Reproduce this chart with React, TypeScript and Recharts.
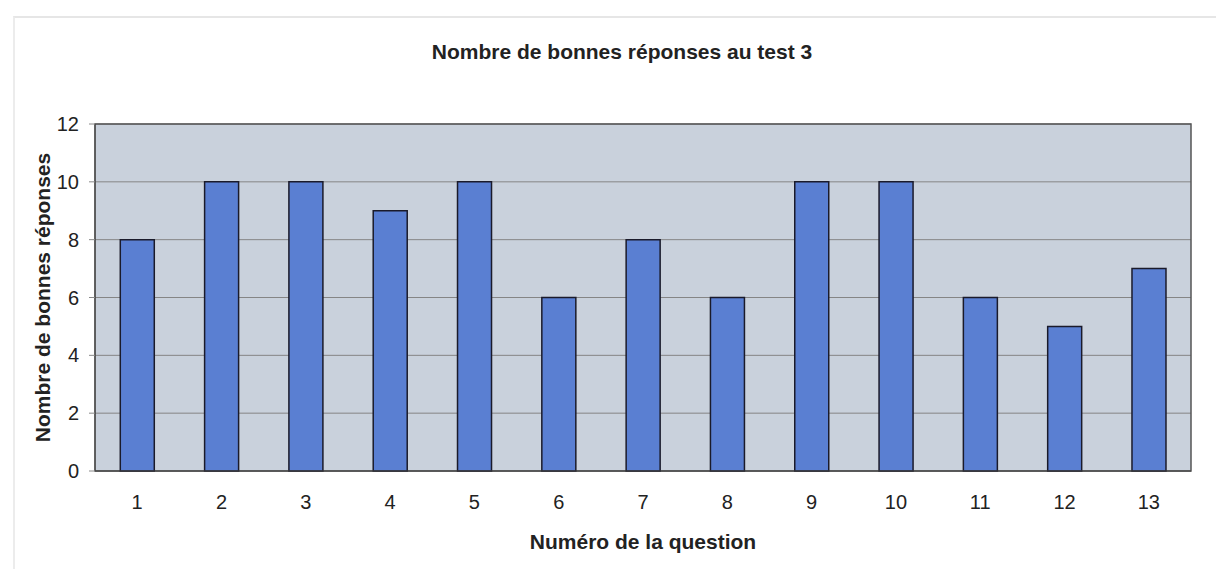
import { Bar, BarChart, CartesianGrid, Label, ReferenceArea, XAxis, YAxis } from "recharts";

const questions = ["1", "2", "3", "4", "5", "6", "7", "8", "9", "10", "11", "12", "13"];
const goodAnswers = [8, 10, 10, 9, 10, 6, 8, 6, 10, 10, 6, 5, 7];
const yTicks = [0, 2, 4, 6, 8, 10, 12];

const data = questions.map((q, i) => ({ question: q, value: goodAnswers[i] }));

const font = "'Liberation Sans', Arial, sans-serif";

const App = () => {
  return (
    <div style={{ position: "absolute", left: 0, top: 0, width: 1216, height: 569, background: "#fff", fontFamily: font }}>
      {/* faint outer frame of the chart object */}
      <div
        style={{
          position: "absolute",
          left: 13,
          top: 16,
          width: 1203,
          height: 553,
          borderLeft: "2px solid #ececec",
          borderTop: "2px solid #e6e6e6",
        }}
      />
      <div
        style={{
          position: "absolute",
          top: 40,
          left: 14,
          width: 1216,
          textAlign: "center",
          fontWeight: "bold",
          fontSize: 21,
          color: "#222",
        }}
      >
        Nombre de bonnes réponses au test 3
      </div>
      <BarChart
        width={1216}
        height={569}
        data={data}
        barCategoryGap="30%"
        margin={{ top: 124, right: 25, left: 35, bottom: 18 }}
        style={{ position: "absolute", left: 0, top: 0 }}
      >
        <CartesianGrid vertical={false} stroke="#858585" fill="#c9d1dc" />
        <XAxis
          dataKey="question"
          height={80}
          tickLine={false}
          axisLine={{ stroke: "#444" }}
          tick={{ fill: "#222", fontSize: 20, fontFamily: font }}
          tickMargin={18}
        >
          <Label
            value="Numéro de la question"
            position="insideBottom"
            offset={2}
            style={{ fill: "#222", fontSize: 21, fontWeight: "bold", fontFamily: font }}
          />
        </XAxis>
        <YAxis
          width={60}
          domain={[0, 12]}
          ticks={yTicks}
          tickLine={{ stroke: "#888" }}
          tickSize={6}
          axisLine={{ stroke: "#444" }}
          tick={{ fill: "#222", fontSize: 20, fontFamily: font }}
          tickMargin={10}
        >
          <Label
            value="Nombre de bonnes réponses"
            angle={-90}
            position="insideLeft"
            offset={8}
            style={{ textAnchor: "middle", fill: "#222", fontSize: 21, fontWeight: "bold", fontFamily: font }}
          />
        </YAxis>
        <ReferenceArea y1={0} y2={12} fill="none" stroke="#555" strokeWidth={1.5} ifOverflow="visible" />
        <Bar dataKey="value" fill="#5a7fd2" stroke="#1a1a2a" strokeWidth={1.5} isAnimationActive={false} />
      </BarChart>
    </div>
  );
};

export default App;
